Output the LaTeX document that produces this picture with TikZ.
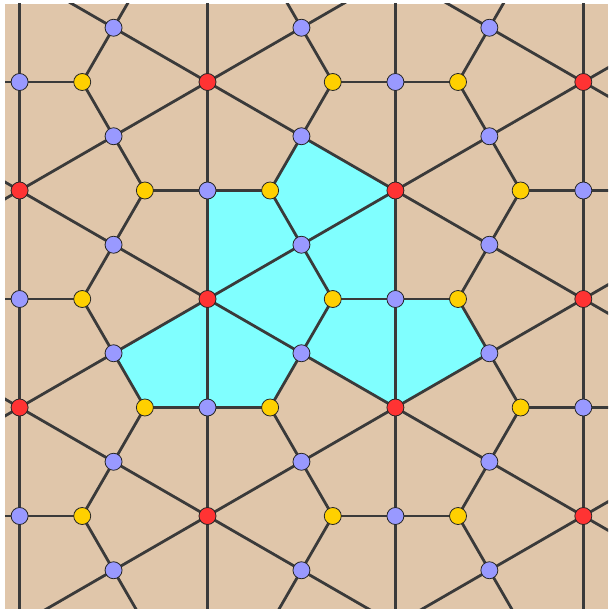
\documentclass[tikz,border=0pt]{standalone}
\definecolor{tanbg}{RGB}{224,198,170}
\definecolor{hatcyan}{RGB}{128,255,255}
\definecolor{vred}{RGB}{255,51,51}
\definecolor{vblue}{RGB}{153,153,255}
\definecolor{vyellow}{RGB}{255,208,0}
\definecolor{edgegray}{RGB}{58,58,58}
\begin{document}
\begin{tikzpicture}[x=1pt,y=-1pt,
  edge/.style={draw=edgegray,line width=2.8pt},
  vtx/.style={circle,draw=black!85,line width=0.8pt,minimum size=17pt,inner sep=0pt},
  redv/.style={vtx,fill=vred},
  bluev/.style={vtx,fill=vblue},
  yelv/.style={vtx,fill=vyellow}]
\useasboundingbox (0,0) rectangle (608,609);
\fill[tanbg] (5,4) rectangle (608,609);
\begin{scope}
\clip (5,4) rectangle (608,609);
% highlighted polykite
\fill[hatcyan] (207.5,190.5) -- (270.13,190.5) -- (301.45,136.25) -- (395.4,190.5)
  -- (395.4,299) -- (458.03,299) -- (489.35,353.25) -- (395.4,407.5)
  -- (301.45,353.25) -- (270.13,407.5) -- (207.5,407.5) -- (144.87,407.5)
  -- (113.55,353.25) -- (207.5,299) -- cycle;
% edges
\foreach \i in {-2,...,3}{
  \foreach \j in {-5,...,5}{
    \pgfmathsetmacro\px{207.5+187.9*\i}
    \pgfmathsetmacro\py{299+108.5*\i+217*\j}
    \coordinate (P) at (\px,\py);
    \draw[edge] (P) -- ++(187.9,108.5);
    \draw[edge] (P) -- ++(187.9,-108.5);
    \draw[edge] (P) -- ++(0,217);
    \coordinate (C1) at (\px+125.27,\py);
    \coordinate (C2) at (\px+62.63,\py-108.5);
    \draw[edge] (C1) -- (\px+93.95,\py+54.25);
    \draw[edge] (C1) -- (\px+93.95,\py-54.25);
    \draw[edge] (C1) -- (\px+187.9,\py);
    \draw[edge] (C2) -- (\px,\py-108.5);
    \draw[edge] (C2) -- (\px+93.95,\py-54.25);
    \draw[edge] (C2) -- (\px+93.95,\py-162.75);
  }
}
% vertices
\foreach \i in {-2,...,3}{
  \foreach \j in {-5,...,5}{
    \pgfmathsetmacro\px{207.5+187.9*\i}
    \pgfmathsetmacro\py{299+108.5*\i+217*\j}
    \node[bluev] (ba\i\j) at (\px+93.95,\py+54.25) {};
    \node[bluev] (bb\i\j) at (\px+93.95,\py-54.25) {};
    \node[bluev] (bc\i\j) at (\px,\py+108.5) {};
    \node[yelv] (ya\i\j) at (\px+125.27,\py) {};
    \node[yelv] (yb\i\j) at (\px+62.63,\py-108.5) {};
    \node[redv] (r\i\j) at (\px,\py) {};
  }
}
\end{scope}
\end{tikzpicture}
\end{document}
